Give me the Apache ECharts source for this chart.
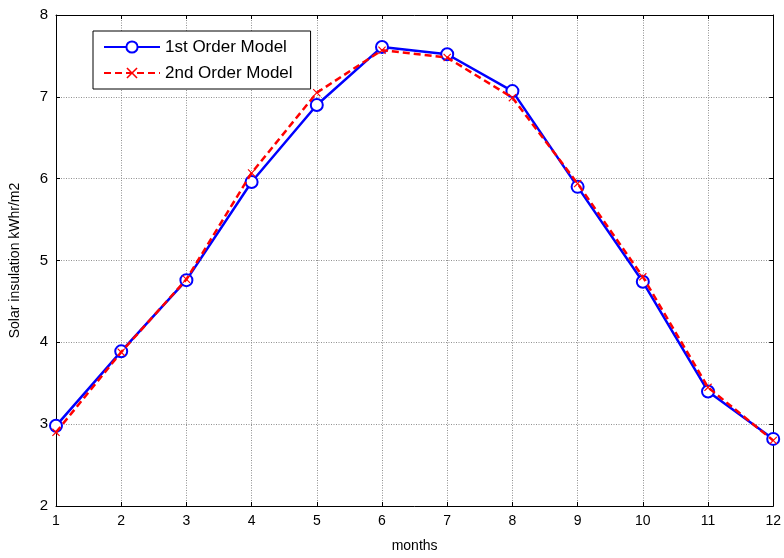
<!DOCTYPE html>
<html>
<head>
<meta charset="utf-8">
<script src="https://cdn.jsdelivr.net/npm/echarts@6/dist/echarts.min.js"></script>
<style>
  html, body { margin: 0; padding: 0; background: #fff; }
  #chart { width: 784px; height: 558px; }
</style>
</head>
<body>
<div id="chart"></div>
<script>
// months 1..12
const months = [1, 2, 3, 4, 5, 6, 7, 8, 9, 10, 11, 12];
const firstOrder = [2.98, 3.89, 4.76, 5.96, 6.90, 7.61, 7.52, 7.07, 5.90, 4.74, 3.40, 2.82];
const secondOrder = [2.90, 3.88, 4.77, 6.07, 7.05, 7.57, 7.48, 6.99, 5.94, 4.80, 3.45, 2.80];

const pairs = (ys) => months.map((m, i) => [m, ys[i]]);

// small 'x' marker like MATLAB's
const xMark = "path://M0,1 L1,0 L5,4 L9,0 L10,1 L6,5 L10,9 L9,10 L5,6 L1,10 L0,9 L4,5 Z";

const font = "Liberation Sans, Arial, sans-serif";
const gridLine = { show: true, lineStyle: { color: "#909090", type: [1, 1.5], width: 1 } };
const tick = { show: true, inside: true, length: 4, lineStyle: { color: "#000" } };

const chart = echarts.init(document.getElementById("chart"));
chart.setOption({
  animation: false,
  backgroundColor: "#fff",
  grid: { left: 56, right: 10, top: 15, bottom: 50 },
  legend: {
    orient: "vertical",
    left: 93,
    top: 31,
    padding: [6, 18, 6, 10],
    itemGap: 6,
    itemWidth: 56,
    itemHeight: 14,
    borderColor: "#000",
    borderWidth: 1,
    backgroundColor: "#fff",
    textStyle: { fontFamily: font, fontSize: 17, lineHeight: 20, color: "#000" },
    data: ["1st Order Model", "2nd Order Model"],
  },
  xAxis: [
    {
      type: "value",
      min: 1,
      max: 12,
      interval: 1,
      name: "months",
      nameLocation: "middle",
      nameGap: 33,
      nameTextStyle: { fontFamily: font, fontSize: 14, color: "#000" },
      axisLine: { lineStyle: { color: "#000", width: 1 } },
      axisTick: tick,
      axisLabel: { fontFamily: font, fontSize: 14, color: "#000", margin: 8 },
      splitLine: gridLine,
    },
    {
      type: "value",
      position: "top",
      min: 1,
      max: 12,
      interval: 1,
      axisLine: { show: true, onZero: false, lineStyle: { color: "#000" } },
      axisTick: tick,
      axisLabel: { show: false },
      splitLine: { show: false },
    },
  ],
  yAxis: [
    {
      type: "value",
      min: 2,
      max: 8,
      interval: 1,
      name: "Solar insulation kWhr/m2",
      nameLocation: "middle",
      nameGap: 34,
      nameTextStyle: { fontFamily: font, fontSize: 14, color: "#000" },
      axisLine: { show: true, lineStyle: { color: "#000", width: 1 } },
      axisTick: tick,
      axisLabel: { fontFamily: font, fontSize: 15, color: "#000", margin: 8 },
      splitLine: gridLine,
    },
    {
      type: "value",
      position: "right",
      min: 2,
      max: 8,
      interval: 1,
      axisLine: { show: true, onZero: false, lineStyle: { color: "#000" } },
      axisTick: tick,
      axisLabel: { show: false },
      splitLine: { show: false },
    },
  ],
  series: [
    {
      name: "1st Order Model",
      type: "line",
      data: pairs(firstOrder),
      symbol: "emptyCircle",
      symbolSize: 12,
      showAllSymbol: true,
      lineStyle: { color: "#0000ff", width: 2.5 },
      itemStyle: { color: "#0000ff", borderColor: "#0000ff", borderWidth: 2.5 },
      z: 3,
    },
    {
      name: "2nd Order Model",
      type: "line",
      data: pairs(secondOrder),
      symbol: xMark,
      symbolSize: 8,
      showAllSymbol: true,
      lineStyle: { color: "#ff0000", width: 2.5, type: [7, 4] },
      itemStyle: { color: "#ff0000" },
      z: 4,
    },
  ],
});
</script>
</body>
</html>
